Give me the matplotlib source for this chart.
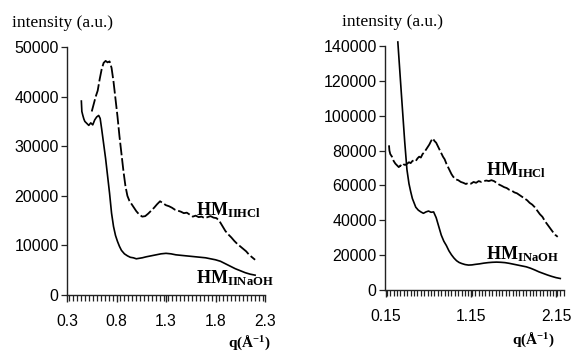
import matplotlib
matplotlib.use("Agg")
import matplotlib.pyplot as plt
from matplotlib.ticker import MultipleLocator

plt.rcParams['mathtext.fontset'] = 'custom'
plt.rcParams['mathtext.rm'] = 'Liberation Serif'
plt.rcParams['mathtext.bf'] = 'Liberation Serif:bold'
plt.rcParams['mathtext.it'] = 'Liberation Serif:italic'

# ---------------- Left panel data (HM_II) ----------------
q_left_hcl = [0.55, 0.57, 0.59, 0.61, 0.63, 0.65, 0.67, 0.69, 0.71, 0.73, 0.75, 0.77,
              0.79, 0.81, 0.83, 0.85, 0.87, 0.89, 0.91, 0.93, 0.95, 0.97, 1.00, 1.03,
              1.06, 1.09, 1.12, 1.15, 1.18, 1.21, 1.24, 1.27, 1.30, 1.33, 1.36, 1.39,
              1.42, 1.45, 1.48, 1.51, 1.54, 1.57, 1.60, 1.63, 1.66, 1.69, 1.72, 1.75,
              1.78, 1.81, 1.84, 1.87, 1.90, 1.93, 1.96, 1.99, 2.02, 2.05, 2.08, 2.11,
              2.14, 2.17, 2.20]
i_left_hcl = [37000, 38500, 40000, 41200, 43500, 45500, 46800, 47200, 46900, 47100, 45800, 43000,
              39500, 36000, 32000, 28500, 25000, 22000, 20000, 19000, 18400, 17800, 16900, 16200,
              15800, 15900, 16400, 17000, 17600, 18300, 18900, 18500, 18100, 17900, 17600, 17200,
              17000, 16800, 16500, 16600, 16200, 15800, 16000, 15700, 15800, 15500, 15700, 15900,
              15600, 15500, 14900, 13900, 12900, 12200, 11600, 10900, 10300, 9800, 9300, 8800,
              8100, 7600, 7100]

q_left_naoh = [0.445, 0.45, 0.46, 0.47, 0.48, 0.50, 0.52, 0.54, 0.56, 0.58, 0.60, 0.62,
               0.635, 0.65, 0.67, 0.69, 0.71, 0.73, 0.75, 0.77, 0.79, 0.81, 0.83, 0.85,
               0.88, 0.91, 0.94, 0.97, 1.00, 1.03, 1.06, 1.10, 1.15, 1.20, 1.25, 1.30,
               1.35, 1.40, 1.45, 1.50, 1.55, 1.60, 1.65, 1.70, 1.75, 1.80, 1.85, 1.90,
               1.95, 2.00, 2.05, 2.10, 2.15, 2.20]
i_left_naoh = [39100, 37000, 36200, 35500, 35000, 34600, 34200, 34700, 34300, 35300, 35900, 36200,
               35600, 33500, 30500, 27500, 24000, 20500, 16500, 13800, 12000, 10800, 9800, 9000,
               8300, 7900, 7600, 7500, 7300, 7400, 7500, 7700, 7900, 8100, 8300, 8400,
               8300, 8100, 8000, 7900, 7800, 7700, 7600, 7500, 7300, 7100, 6800, 6300,
               5800, 5300, 4900, 4500, 4200, 4000]

left_xticks = [0.3, 0.8, 1.3, 1.8, 2.3]
left_xticklabels = ["0.3", "0.8", "1.3", "1.8", "2.3"]
left_yticks = [0, 10000, 20000, 30000, 40000, 50000]

# ---------------- Right panel data (HM_I) ----------------
q_right_hcl = [0.185, 0.19, 0.20, 0.22, 0.24, 0.26, 0.28, 0.30, 0.32, 0.34, 0.36, 0.38,
               0.40, 0.42, 0.44, 0.46, 0.48, 0.50, 0.52, 0.54, 0.56, 0.58, 0.60, 0.62,
               0.64, 0.66, 0.68, 0.70, 0.72, 0.74, 0.76, 0.78, 0.80, 0.82, 0.84, 0.86,
               0.88, 0.90, 0.92, 0.94, 0.97, 1.00, 1.03, 1.06, 1.09, 1.12, 1.15, 1.18,
               1.21, 1.24, 1.27, 1.30, 1.33, 1.36, 1.39, 1.42, 1.45, 1.48, 1.51, 1.54,
               1.57, 1.60, 1.63, 1.66, 1.69, 1.72, 1.75, 1.78, 1.81, 1.84, 1.87, 1.90,
               1.93, 1.96, 1.99, 2.02, 2.05, 2.08, 2.11, 2.14, 2.17]
i_right_hcl = [83000, 80000, 78000, 76500, 74000, 72500, 71500, 70500, 71500, 70800, 72000, 71800,
               72500, 73300, 72800, 74000, 74500, 74000, 75500, 76500, 76000, 78000, 79000, 80500,
               82000, 83500, 85500, 87000, 85500, 84500, 82500, 80500, 78500, 76500, 75000, 72500,
               70500, 68500, 66500, 65000, 63500, 63000, 62000, 61500, 60800, 61500, 61000, 62000,
               61500, 62500, 62000, 62500, 62800, 62500, 63000, 62500, 61500, 60500, 59800, 59000,
               58500, 57500, 57000, 56000, 55500, 54500, 53500, 52500, 51500, 50000, 49000, 47500,
               45500, 43500, 42000, 39500, 37500, 35500, 33500, 31700, 30500]

q_right_naoh = [0.289, 0.33, 0.37, 0.396, 0.42, 0.44, 0.46, 0.48, 0.50, 0.53, 0.56, 0.59,
                0.62, 0.65, 0.68, 0.71, 0.74, 0.77, 0.80, 0.83, 0.86, 0.89, 0.92, 0.95,
                0.98, 1.01, 1.04, 1.08, 1.12, 1.16, 1.20, 1.25, 1.30, 1.35, 1.40, 1.45,
                1.50, 1.55, 1.60, 1.65, 1.70, 1.75, 1.80, 1.85, 1.90, 1.95, 2.00, 2.05,
                2.10, 2.15, 2.20]
i_right_naoh = [142300, 113000, 85000, 69100, 61000, 56500, 52500, 50000, 47500, 45800, 44800, 44000,
                44800, 45300, 44600, 44800, 41500, 36500, 31500, 28000, 25500, 22500, 20200, 18300,
                16800, 15800, 15200, 14600, 14300, 14400, 14700, 15000, 15400, 15700, 15900, 16000,
                15900, 15700, 15300, 14800, 14300, 13800, 13300, 12500, 11500, 10400, 9500, 8600,
                7800, 7100, 6600]

right_xticks = [0.15, 1.15, 2.15]
right_xticklabels = ["0.15", "1.15", "2.15"]
right_yticks = [0, 20000, 40000, 60000, 80000, 100000, 120000, 140000]

W, H = 571, 354
fig = plt.figure(figsize=(W / 100, H / 100), dpi=100)

def px_axes(x0, x1, ytop, ybot):
    return [x0 / W, (H - ybot) / H, (x1 - x0) / W, (ybot - ytop) / H]

ax1 = fig.add_axes(px_axes(67, 265, 47, 295))
ax2 = fig.add_axes(px_axes(385, 564, 46, 290))

sans = 'Liberation Sans'
serif = 'Liberation Serif'
hcl_style = dict(color='black', lw=1.3, linestyle=(0, (7, 1.6)))
naoh_style = dict(color='black', lw=1.2, linestyle='-')

def style_axis(ax, xlim, ylim, xticks, xlabels, yticks, minor_step):
    ax.set_xlim(*xlim)
    ax.set_ylim(*ylim)
    for s in ['top', 'right']:
        ax.spines[s].set_visible(False)
    for s in ['left', 'bottom']:
        ax.spines[s].set_linewidth(1.0)
        ax.spines[s].set_color('#222222')
    ax.set_xticks(xticks)
    ax.set_xticklabels(xlabels)
    ax.set_yticks(yticks)
    ax.set_yticklabels([str(v) for v in yticks])
    ax.xaxis.set_minor_locator(MultipleLocator(minor_step))
    ax.tick_params(axis='x', which='major', direction='out', length=5, width=1,
                   pad=9, labelsize=11.3, color='#222222')
    ax.tick_params(axis='x', which='minor', direction='out', length=4, width=0.9,
                   color='#222222')
    ax.tick_params(axis='y', which='major', direction='out', length=4, width=0.9,
                   pad=2, labelsize=11.5, color='#222222')
    for lab in ax.get_xticklabels() + ax.get_yticklabels():
        lab.set_family(sans)

# Left panel
ax1.plot(q_left_hcl, i_left_hcl, **hcl_style)
ax1.plot(q_left_naoh, i_left_naoh, **naoh_style)
style_axis(ax1, (0.3, 2.29), (0, 50000), left_xticks, left_xticklabels, left_yticks, 0.04)
ax1.text(1.605, 17200, r'$\mathbf{HM}_{\mathbf{IIHCl}}$', fontsize=13, va='center', ha='left')
ax1.text(1.605, 3300, r'$\mathbf{HM}_{\mathbf{IINaOH}}$', fontsize=13, va='center', ha='left')

# Right panel
ax2.plot(q_right_hcl, i_right_hcl, **hcl_style)
ax2.plot(q_right_naoh, i_right_naoh, clip_on=False, **naoh_style)
style_axis(ax2, (0.138, 2.244), (0, 140000), right_xticks, right_xticklabels, right_yticks, 0.04)
ax2.text(1.33, 68500, r'$\mathbf{HM}_{\mathbf{IHCl}}$', fontsize=13, va='center', ha='left')
ax2.text(1.33, 20500, r'$\mathbf{HM}_{\mathbf{INaOH}}$', fontsize=13, va='center', ha='left')

# Axis titles
fig.text(12 / W, 1 - 27 / H, 'intensity (a.u.)', family=serif, fontsize=12.5, va='baseline', ha='left')
fig.text(342 / W, 1 - 26 / H, 'intensity (a.u.)', family=serif, fontsize=12.5, va='baseline', ha='left')
fig.text(249 / W, 1 - 343 / H, r'$\mathbf{q(\AA^{-1})}$', fontsize=11, va='center', ha='center')
fig.text(533 / W, 1 - 340 / H, r'$\mathbf{q(\AA^{-1})}$', fontsize=11, va='center', ha='center')

fig.savefig('out.png', dpi=100)
